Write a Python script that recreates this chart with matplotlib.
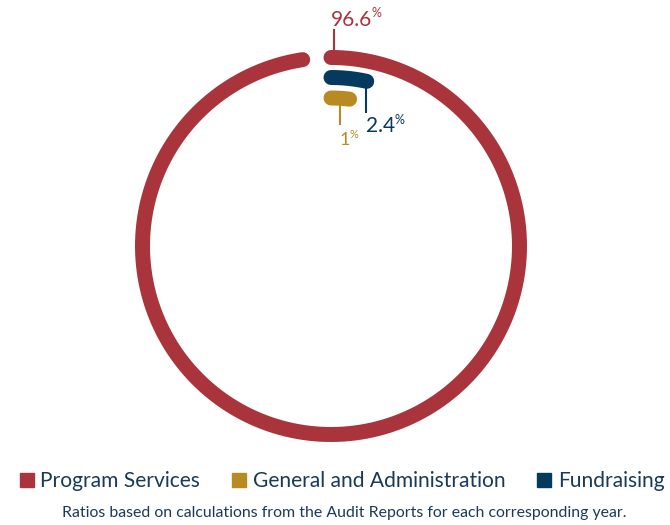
import numpy as np
import matplotlib.pyplot as plt
from matplotlib.lines import Line2D

# data
categories = ['Program Services', 'General and Administration', 'Fundraising']
values = [96.6, 1, 2.4]
value_labels = ['96.6', '1', '2.4']
caption = 'Ratios based on calculations from the Audit Reports for each corresponding year.'

colors = {'Program Services': '#a9343b',
          'General and Administration': '#b98a22',
          'Fundraising': '#053a5e'}
text_color = '#1a3a5a'

# layout (pixel units)
W, H = 670, 525
cx, cy = 331, 246
radii = {'Program Services': 188.5, 'Fundraising': 168.5, 'General and Administration': 148}
cap_pad = 1.0          # extra sweep (%) the rounded ends eat
ring_lw = 15 * 0.72

plt.rcParams['font.family'] = ['Lato', 'DejaVu Sans']

fig = plt.figure(figsize=(W / 100, H / 100), dpi=100)
ax = fig.add_axes([0, 0, 1, 1])
ax.set_xlim(0, W)
ax.set_ylim(H, 0)
ax.axis('off')


def polar(r, pct):
    t = np.asarray(pct) / 100 * 2 * np.pi
    return cx + r * np.sin(t), cy - r * np.cos(t)


for cat, v in zip(categories, values):
    r = radii[cat]
    sweep = np.linspace(0, v + cap_pad, 400)
    x, y = polar(r, sweep)
    ax.plot(x, y, color=colors[cat], lw=ring_lw, solid_capstyle='round')

renderer = fig.canvas.get_renderer()


def label(x, y, num, color, size):
    t = ax.text(x, y, num, color=color, fontsize=size, ha='left', va='baseline')
    bb = t.get_window_extent(renderer).transformed(ax.transData.inverted())
    ax.text(bb.x1 - 0.5, y - size * 0.55, '%', color=color, fontsize=size * 0.6,
            ha='left', va='baseline')


# leaders + labels
anchors = {'Program Services': 0.25, 'Fundraising': 2.4 + cap_pad * 0.9,
           'General and Administration': 1.0}
for cat, v, lab in zip(categories, values, value_labels):
    r = radii[cat]
    c = colors[cat]
    x0, y0 = polar(r, anchors[cat])
    if cat == 'Program Services':
        y_start, y_end = y0 - 7, y0 - 28
        ax.plot([x0, x0], [y_start, y_end], color=c, lw=1.5)
        label(x0 - 3, y_end - 4, lab, c, 15)
    elif cat == 'Fundraising':
        y_start, y_end = y0 + 2, y0 + 32
        ax.plot([x0, x0], [y_start, y_end], color=c, lw=1.5, solid_capstyle='butt')
        label(x0, y_end + 19, lab, c, 15)
    else:
        y_start, y_end = y0 + 6, y0 + 27
        ax.plot([x0, x0], [y_start, y_end], color=c, lw=1.5, solid_capstyle='butt')
        label(x0 - 1, y_end + 20, lab, c, 13)

# legend
handles = [Line2D([], [], marker='s', ls='none', markersize=10,
                  markerfacecolor=colors[c], markeredgecolor=colors[c]) for c in categories]
leg = ax.legend(handles, categories, loc='center', bbox_to_anchor=(342.5, 481),
                bbox_transform=ax.transData, ncol=3, frameon=False, fontsize=15.1,
                handlelength=0.6, handletextpad=0.35, columnspacing=1.55,
                borderaxespad=0, borderpad=0)
for t in leg.get_texts():
    t.set_color(text_color)

ax.text(344, 517, caption, color=text_color, fontsize=11.4, ha='center', va='baseline')

fig.savefig('out.png', dpi=100)
